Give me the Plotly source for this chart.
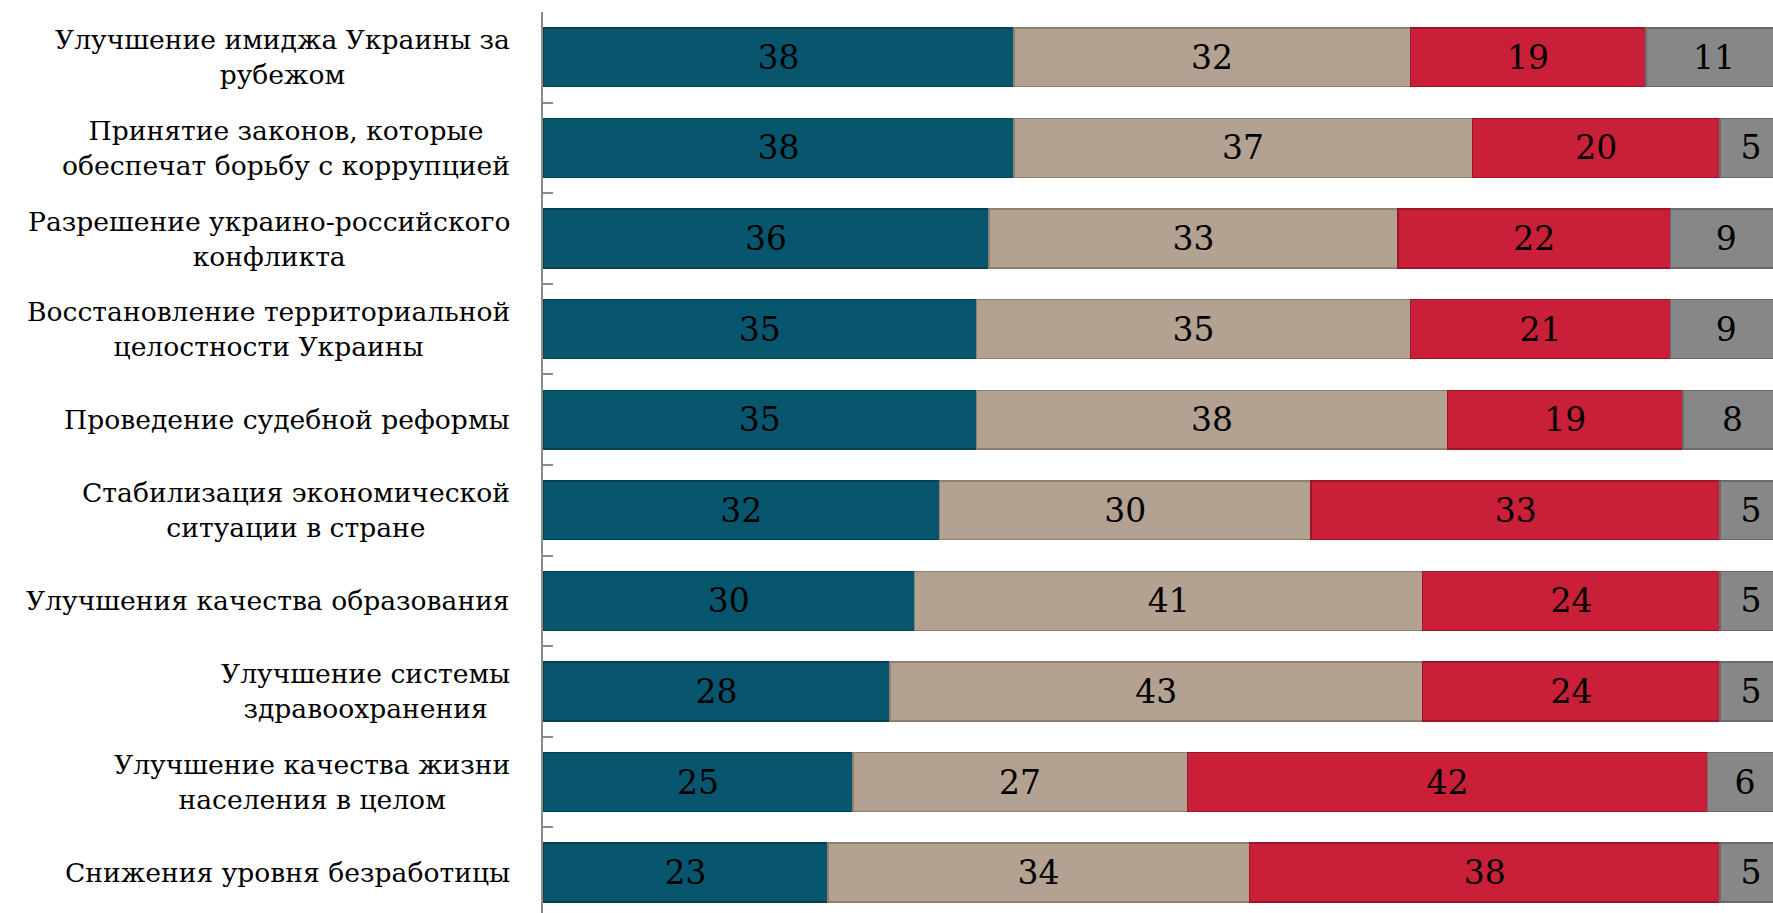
import plotly.graph_objects as go

categories = [
    "Улучшение имиджа Украины за<br>рубежом",
    "Принятие законов, которые<br>обеспечат борьбу с коррупцией",
    "Разрешение украино-российского<br>конфликта",
    "Восстановление территориальной<br>целостности Украины",
    "Проведение судебной реформы",
    "Стабилизация экономической<br>ситуации в стране",
    "Улучшения качества образования",
    "Улучшение системы<br>здравоохранения",
    "Улучшение качества жизни<br>населения в целом",
    "Снижения уровня безработицы",
]
series_names = ["s1", "s2", "s3", "s4"]
s1 = [38, 38, 36, 35, 35, 32, 30, 28, 25, 23]
s2 = [32, 37, 33, 35, 38, 30, 41, 43, 27, 34]
s3 = [19, 20, 22, 21, 19, 33, 24, 24, 42, 38]
s4 = [11, 5, 9, 9, 8, 5, 5, 5, 6, 5]

colors = ["#08566e", "#b3a192", "#c91f38", "#878787"]
edges = ["#053f52", "#8f7f73", "#9c1529", "#6a6a6a"]

LABEL_FONT = "DejaVu Serif"
NUM_FONT = "DejaVu Serif"

fig = go.Figure()
for name, vals, c, e in zip(series_names, [s1, s2, s3, s4], colors, edges):
    fig.add_trace(go.Bar(
        y=categories, x=vals, orientation="h", name=name,
        marker=dict(color=c, line=dict(color=e, width=1.5)),
        text=[str(v) for v in vals], textposition="inside",
        insidetextanchor="middle", textangle=0,
        textfont=dict(family=NUM_FONT, size=33, color="#000000"),
        showlegend=False, hoverinfo="x+y",
    ))

for cat in categories:
    fig.add_annotation(
        x=0, xref="paper", y=cat, yref="y", xanchor="right", xshift=-31,
        text=cat, showarrow=False, align="center",
        font=dict(family=LABEL_FONT, size=26.6, color="#000000"),
    )

fig.update_layout(
    barmode="stack", bargap=0.35,
    width=1773, height=913,
    margin=dict(l=543, r=0, t=12, b=0),
    paper_bgcolor="white", plot_bgcolor="white",
    uniformtext=dict(minsize=33, mode="show"),
    xaxis=dict(range=[0, 99.27], visible=False, showgrid=False, zeroline=False),
    yaxis=dict(type="category", categoryorder="array", categoryarray=categories,
               range=[9.445, -0.5],
               showticklabels=False, showgrid=False, zeroline=False,
               showline=True, linecolor="#8c8c8c", linewidth=1.5,
               ticks="inside", tickson="boundaries", ticklen=10,
               tickcolor="#8c8c8c", tickwidth=1.5),
)

fig.write_html("out.html", config={"displayModeBar": False},
               post_script="document.body.style.margin='0';")
